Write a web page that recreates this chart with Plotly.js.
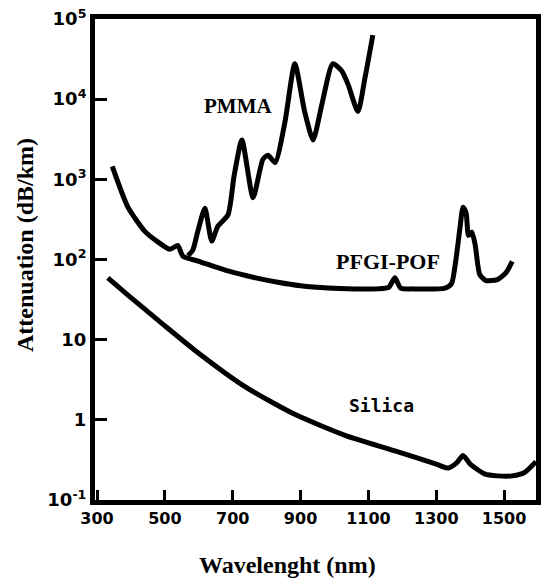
<!DOCTYPE html>
<html>
<head>
<meta charset="utf-8">
<script src="https://cdn.plot.ly/plotly-3.0.1.min.js"></script>
<style>html,body{margin:0;padding:0;background:#fff;}#chart{width:542px;height:583px;}</style>
</head>
<body>
<div id="chart"></div>
<script>
// Wavelength (nm) and attenuation (dB/km)
const pfgiX = [345, 391, 441, 479, 515, 538, 553, 600, 686, 760, 833, 900, 981, 1060, 1128, 1160, 1178, 1195, 1230, 1326, 1345, 1358, 1370, 1379, 1388, 1395, 1405, 1415, 1428, 1445, 1480, 1505, 1524];
const pfgiY = [1450, 450, 224, 166, 134, 150, 110, 95, 72, 60, 52, 47, 44, 43, 43, 45, 59, 44, 43, 44, 50, 100, 250, 450, 380, 200, 220, 150, 65, 55, 56, 68, 95];

const pmmaX = [568, 582, 597, 618, 638, 656, 686, 704, 727, 760, 789, 804, 825, 854, 883, 912, 937, 963, 995, 1021, 1040, 1069, 1090, 1113];
const pmmaY = [112, 130, 224, 435, 170, 260, 360, 1100, 3100, 590, 1780, 2000, 1620, 5200, 27700, 7000, 3100, 8700, 27700, 22600, 15300, 7000, 18600, 63000];

const silicaX = [332, 391, 491, 588, 736, 883, 1031, 1178, 1300, 1335, 1360, 1379, 1400, 1444, 1480, 1524, 1560, 1594];
const silicaY = [59, 36, 16, 7.4, 2.6, 1.17, 0.64, 0.41, 0.28, 0.25, 0.29, 0.36, 0.28, 0.21, 0.2, 0.2, 0.22, 0.30];

const xTickVals = [300, 500, 700, 900, 1100, 1300, 1500];
const xTickText = ['300', '500', '700', '900', '1100', '1300', '1500'];
const yTickVals = [0.1, 1, 10, 100, 1000, 10000, 100000];
const yTickText = ['10<sup>-1</sup>', '1', '10', '10<sup>2</sup>', '10<sup>3</sup>', '10<sup>4</sup>', '10<sup>5</sup>'];

const xTitle = 'Wavelenght (nm)';
const yTitle = 'Attenuation (dB/km)';

const seriesLabels = [
  {text: 'PMMA', x: 715, y: 8200, size: 21},
  {text: 'PFGI-POF', x: 1158, y: 95, size: 22},
  {text: 'Silica', x: 1140, y: 1.5, size: 18}
];

const lineStyle = {color: '#000', width: 5, shape: 'spline', smoothing: 0.6};
const traces = [
  {x: silicaX, y: silicaY, mode: 'lines', line: lineStyle, name: 'Silica', hoverinfo: 'skip'},
  {x: pfgiX, y: pfgiY, mode: 'lines', line: lineStyle, name: 'PFGI-POF', hoverinfo: 'skip'},
  {x: pmmaX, y: pmmaY, mode: 'lines', line: lineStyle, name: 'PMMA', hoverinfo: 'skip'}
];

const serif = 'Liberation Serif, Times New Roman, serif';
const sans = 'DejaVu Sans, sans-serif';

const annotations = seriesLabels.map(l => ({
  text: l.text, x: l.x, y: Math.log10(l.y), xref: 'x', yref: 'y',
  showarrow: false,
  font: {family: l.text === 'Silica' ? 'DejaVu Sans Mono, monospace' : serif, size: l.size, color: '#000', weight: 'bold'}
}));
annotations.push({
  text: xTitle, xref: 'paper', yref: 'paper', x: (287 - 95) / 441, y: -(565 - 500) / 481,
  xanchor: 'center', yanchor: 'middle', showarrow: false,
  font: {family: serif, size: 24, color: '#000', weight: 'bold'}
});
annotations.push({
  text: yTitle, xref: 'paper', yref: 'paper', x: -(95 - 25) / 441, y: (500 - 245) / 481,
  xanchor: 'center', yanchor: 'middle', showarrow: false, textangle: -90,
  font: {family: serif, size: 24, color: '#000', weight: 'bold'}
});

const layout = {
  width: 542, height: 583,
  margin: {l: 95, r: 6, t: 19, b: 83},
  paper_bgcolor: '#fff', plot_bgcolor: '#fff',
  showlegend: false,
  xaxis: {
    range: [294, 1594],
    tickvals: xTickVals, ticktext: xTickText,
    ticks: 'inside', ticklen: 10, tickwidth: 3, tickcolor: '#000',
    showline: true, linewidth: 5, linecolor: '#000', mirror: true,
    showgrid: false, zeroline: false,
    tickfont: {family: sans, size: 16, color: '#000', weight: 'bold'}
  },
  yaxis: {
    type: 'log', range: [-1, 5],
    tickvals: yTickVals, ticktext: yTickText,
    ticks: 'inside', ticklen: 12, tickwidth: 3, tickcolor: '#000',
    showline: true, linewidth: 5, linecolor: '#000', mirror: true,
    showgrid: false, zeroline: false,
    tickfont: {family: sans, size: 18, color: '#000', weight: 'bold'}
  },
  annotations: annotations
};

Plotly.newPlot('chart', traces, layout, {staticPlot: true, displayModeBar: false});
</script>
</body>
</html>
